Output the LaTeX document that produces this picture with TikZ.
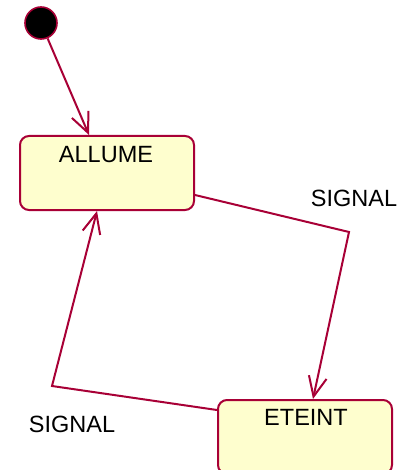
\documentclass[tikz,border=0pt]{standalone}
\usepackage{fontspec}
\setmainfont{Liberation Sans}
\usetikzlibrary{arrows.meta}
\definecolor{umlline}{HTML}{A80036}
\definecolor{umlfill}{HTML}{FEFECE}
\tikzset{
  statebox/.style={draw=umlline, fill=umlfill, line width=2pt, rounded corners=9pt,
    minimum width=174pt, minimum height=74pt, inner sep=0pt},
  initstate/.style={circle, draw=umlline, fill=black, line width=1.6pt, minimum size=32pt, inner sep=0pt},
  statename/.style={font=\fontsize{23.5}{27}\selectfont, inner sep=0pt, anchor=center},
  translabel/.style={font=\fontsize{23.5}{27}\selectfont, inner sep=0pt, anchor=center},
  transition/.style={draw=umlline, line width=2pt,
    -{Straight Barb[length=20pt,width=18pt,line width=2pt]}},
}
\begin{document}
\begin{tikzpicture}[x=1pt,y=-1pt]
  \useasboundingbox (0,0) rectangle (397,470);

  % states
  \node[initstate] (init) at (41,23) {};
  \node[statebox] (allume) at (107,173) {};
  \node[statename] (allumetxt) at (106,155) {ALLUME};
  \node[statebox] (eteint) at (305,437) {};
  \node[statename] (eteinttxt) at (306,417) {ETEINT};

  % bends of the transitions
  \coordinate (bendright) at (349,232);
  \coordinate (bendleft) at (52,386);

  % transitions
  \draw[transition] (init) -- ([xshift=-18pt]allume.north);
  \draw[transition] ([yshift=-22pt]allume.east) -- (bendright) -- ([xshift=8pt]eteint.north);
  \draw[transition] ([yshift=27pt]eteint.west) -- (bendleft) -- ([xshift=-10pt]allume.south);

  % transition labels
  \node[translabel] (sigright) at (354,198) {SIGNAL};
  \node[translabel] (sigleft) at (72,424) {SIGNAL};
\end{tikzpicture}
\end{document}
